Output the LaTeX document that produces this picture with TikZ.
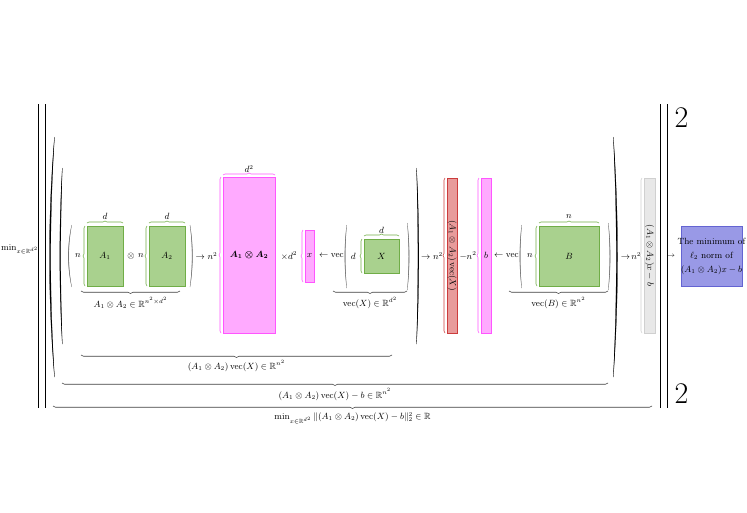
\documentclass[tikz,border=0pt]{standalone}
\usepackage{amsmath,amssymb}
\usetikzlibrary{decorations.pathreplacing}
\definecolor{gfill}{RGB}{169,209,142}
\definecolor{gline}{RGB}{112,173,71}
\definecolor{pfill}{RGB}{255,170,255}
\definecolor{pline}{RGB}{255,85,255}
\definecolor{rfill}{RGB}{232,155,155}
\definecolor{rline}{RGB}{204,60,60}
\definecolor{yfill}{RGB}{232,232,232}
\definecolor{yline}{RGB}{208,208,208}
\definecolor{bfill}{RGB}{153,153,230}
\definecolor{bline}{RGB}{100,100,210}
\newcommand\delimfill[6]{%
 \pgfmathsetmacro\pxa{#2+4/3*(#3-#2)}%
 \pgfmathsetmacro\pxb{#2+4/3*(#3+#6-#2)}%
 \pgfmathsetmacro\pya{#4+(#5-#4)/3}%
 \pgfmathsetmacro\pyb{#5-(#5-#4)/3}%
 \filldraw[#1, line width=0.25pt] (#2,#4) .. controls (\pxa,\pya) and (\pxa,\pyb) .. (#2,#5) .. controls (\pxb,\pyb) and (\pxb,\pya) .. (#2,#4) -- cycle;
}
\begin{document}
\begin{tikzpicture}[x=1pt,y=-1pt,
  every node/.style={font=\fontsize{9}{11}\selectfont, inner sep=0pt, outer sep=0pt},
  boxbase/.style={draw, line width=0.7pt, inner sep=0pt},
  gbox/.style={boxbase, fill=gfill, draw=gline},
  pbox/.style={boxbase, fill=pfill, draw=pline},
  rbox/.style={boxbase, fill=rfill, draw=rline},
  ybox/.style={boxbase, fill=yfill, draw=yline},
  bbox/.style={boxbase, fill=bfill, draw=bline},
  brc/.style={decorate, decoration={brace, amplitude=2pt}, line width=0.6pt},
  bbrc/.style={decorate, decoration={brace, amplitude=2.5pt}, line width=0.6pt, draw=black!75},
  bar/.style={line width=0.9pt}
]
\useasboundingbox (0,0) rectangle (747,512);

% outer norm bars
\draw[bar] (38.3,104) -- (38.3,408);
\draw[bar] (45,104) -- (45,408);
\draw[bar] (660,104) -- (660,408);
\draw[bar] (667,104) -- (667,408);
\node[font=\fontsize{30}{30}\selectfont] (suptwo) at (681.5,118) {2};
\node[font=\fontsize{30}{30}\selectfont] (subtwo) at (681.5,394) {2};
\node (minlab) at (20,249) {$\min_{x\in\mathbb{R}^{d^2}}$};

% big parentheses
\delimfill{black}{54.5}{49.5}{137}{377}{1.2}
\delimfill{black}{613.3}{617.5}{137}{377}{-1.2}
\delimfill{black}{62.3}{59.8}{168}{344}{0.9}
\delimfill{black}{416.5}{418.8}{168}{344}{-0.9}
% small parentheses
\delimfill{black!55}{71.7}{68.3}{225}{287}{0.45}
\delimfill{black!55}{190}{192.5}{225}{287}{-0.45}
\delimfill{black!55}{346.7}{344.8}{225}{288}{0.45}
\delimfill{black!55}{407.3}{409.2}{223}{290}{-0.45}
\delimfill{black!55}{521.7}{519.8}{225}{288}{0.45}
\delimfill{black!55}{608.3}{610.2}{223}{290}{-0.45}

% A1 (x) A2
\node (nA) at (78,256) {$n$};
\node[gbox, minimum width=36pt, minimum height=60pt] (A1) at (105,256) {$A_1$};
\node (otimes) at (131,256) {$\otimes$};
\node (nB) at (141,256) {$n$};
\node[gbox, minimum width=36pt, minimum height=60pt] (A2) at (167,256) {$A_2$};
\draw[brc, gline] ([xshift=-2pt]A1.south west) -- ([xshift=-2pt]A1.north west);
\draw[brc, gline] ([yshift=3pt]A1.north west) -- ([yshift=3pt]A1.north east);
\node (dA1) at (105,216.5) {$d$};
\draw[brc, gline] ([xshift=-2pt]A2.south west) -- ([xshift=-2pt]A2.north west);
\draw[brc, gline] ([yshift=3pt]A2.north west) -- ([yshift=3pt]A2.north east);
\node (dA2) at (167,216.5) {$d$};
\coordinate (k1r) at (180,291);
\coordinate (k1l) at (81,291);
\draw[bbrc] (k1r) -- (k1l);
\node (k1lab) at (130.5,303) {$A_1\otimes A_2\in\mathbb{R}^{n^2\times d^2}$};

\node (arr1) at (206.5,256) {$\to n^2$};

% Kronecker product box
\node[pbox, minimum width=52pt, minimum height=156pt] (AA) at (249,255) {$\boldsymbol{A_1\otimes A_2}$};
\draw[brc, pline] ([xshift=-2pt]AA.south west) -- ([xshift=-2pt]AA.north west);
\draw[brc, pline] ([yshift=2pt]AA.north west) -- ([yshift=2pt]AA.north east);
\node (dAA) at (249,169) {$d^2$};
\node (times) at (289,256) {$\times d^2$};
\node[pbox, minimum width=9pt, minimum height=52pt] (xv) at (309.5,256) {$x$};
\draw[brc, pline] ([xshift=-2pt]xv.south west) -- ([xshift=-2pt]xv.north west);
\node (vec1) at (331.5,256) {$\leftarrow\operatorname{vec}$};

% X
\node (dX) at (353.3,256) {$d$};
\node[gbox, minimum width=35pt, minimum height=34pt] (X) at (381.5,256) {$X$};
\draw[brc, gline] ([xshift=-2pt]X.south west) -- ([xshift=-2pt]X.north west);
\draw[brc, gline] ([yshift=3pt]X.north west) -- ([yshift=3pt]X.north east);
\node (dX2) at (381.5,230.5) {$d$};
\coordinate (k2r) at (407,291);
\coordinate (k2l) at (333,291);
\draw[bbrc] (k2r) -- (k2l);
\node (k2lab) at (370,303) {$\operatorname{vec}(X)\in\mathbb{R}^{d^2}$};

\node (arr2) at (432,256) {$\to n^2$};

% product vector
\node[rbox, minimum width=10pt, minimum height=155pt] (red) at (452,255.5) {};
\node[rotate=-90] (redtxt) at (red) {$(A_1\otimes A_2)\operatorname{vec}(X)$};
\draw[brc, rline] ([xshift=-2pt]red.south west) -- ([xshift=-2pt]red.north west);
\node (minus) at (468,256) {$-n^2$};
\node[pbox, minimum width=10pt, minimum height=155pt] (bv) at (486,255.5) {$b$};
\draw[brc, pline] ([xshift=-2pt]bv.south west) -- ([xshift=-2pt]bv.north west);
\node (vec2) at (506.5,256) {$\leftarrow\operatorname{vec}$};

% B
\node (nBB) at (530,256) {$n$};
\node[gbox, minimum width=60pt, minimum height=60pt] (B) at (569,256) {$B$};
\draw[brc, gline] ([xshift=-2pt]B.south west) -- ([xshift=-2pt]B.north west);
\draw[brc, gline] ([yshift=3pt]B.north west) -- ([yshift=3pt]B.north east);
\node (nB2) at (569,216.5) {$n$};
\coordinate (k3r) at (608,291);
\coordinate (k3l) at (509,291);
\draw[bbrc] (k3r) -- (k3l);
\node (k3lab) at (558.5,303) {$\operatorname{vec}(B)\in\mathbb{R}^{n^2}$};

\node (arr3) at (631,256) {$\to\! n^2$};
\node[ybox, minimum width=11pt, minimum height=155pt] (gry) at (649.5,255.5) {};
\node[rotate=-90] (grytxt) at (gry) {$(A_1\otimes A_2)x-b$};
\draw[brc, yline] ([xshift=-2pt]gry.south west) -- ([xshift=-2pt]gry.north west);

% result
\node[font=\scriptsize] (arr4) at (671,256) {$\to$};
\node[bbox, minimum width=61pt, minimum height=60pt] (res) at (711.5,256) {};
\node[align=center, font=\fontsize{9}{14}\selectfont] (restxt) at (res) {The minimum of\\$\ell_2$ norm of\\$(A_1\otimes A_2)x-b$};

% lower braces
\coordinate (m1r) at (392,355);
\coordinate (m1l) at (81,355);
\draw[bbrc] (m1r) -- (m1l);
\node (m1lab) at (236.5,366) {$(A_1\otimes A_2)\operatorname{vec}(X)\in\mathbb{R}^{n^2}$};
\coordinate (m2r) at (608,383);
\coordinate (m2l) at (62,383);
\draw[bbrc] (m2r) -- (m2l);
\node (m2lab) at (335,394.5) {$(A_1\otimes A_2)\operatorname{vec}(X)-b\in\mathbb{R}^{n^2}$};
\coordinate (m3r) at (652,406);
\coordinate (m3l) at (53,406);
\draw[bbrc] (m3r) -- (m3l);
\node (m3lab) at (352.5,418) {$\min_{x\in\mathbb{R}^{d^2}}\|(A_1\otimes A_2)\operatorname{vec}(X)-b\|_2^2\in\mathbb{R}$};
\end{tikzpicture}
\end{document}
